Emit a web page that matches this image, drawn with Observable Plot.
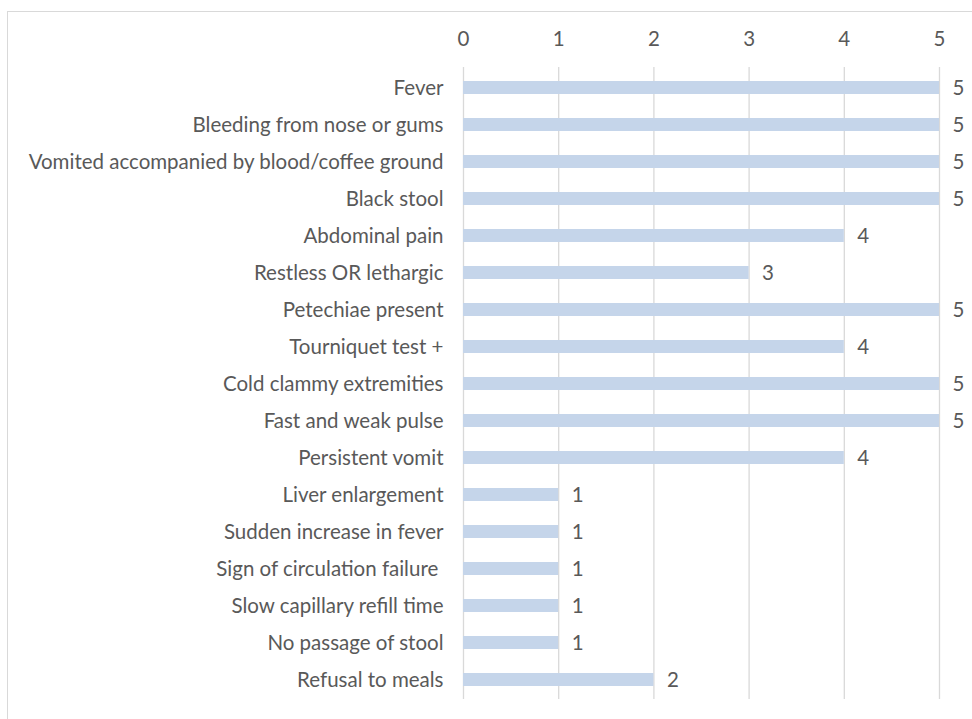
<!DOCTYPE html>
<html>
<head>
<meta charset="utf-8">
<script src="https://cdn.jsdelivr.net/npm/d3@7"></script>
<script src="https://cdn.jsdelivr.net/npm/@observablehq/plot@0.6"></script>
<style>
  html, body { margin: 0; padding: 0; background: #fff; }
  #wrap { position: relative; width: 972px; height: 719px; overflow: hidden; }
  #frame { position: absolute; left: 7px; top: 11px; width: 1000px; height: 1000px; border: 1px solid #d9d9d9; box-sizing: border-box; }
  #chart { position: absolute; left: 0; top: 0; }
</style>
</head>
<body>
<div id="wrap">
  <div id="frame"></div>
  <div id="chart"></div>
</div>
<script>
const categories = [
  "Fever",
  "Bleeding from nose or gums",
  "Vomited accompanied by blood/coffee ground",
  "Black stool",
  "Abdominal pain",
  "Restless OR lethargic",
  "Petechiae present",
  "Tourniquet test +",
  "Cold clammy extremities",
  "Fast and weak pulse",
  "Persistent vomit",
  "Liver enlargement",
  "Sudden increase in fever",
  "Sign of circulation failure ",
  "Slow capillary refill time",
  "No passage of stool",
  "Refusal to meals"
];
const counts = [5, 5, 5, 5, 4, 3, 5, 4, 5, 5, 4, 1, 1, 1, 1, 1, 2];
const xTicks = [0, 1, 2, 3, 4, 5];

const data = categories.map((c, i) => ({category: c, value: counts[i]}));

const FS = 20.5;
const chart = Plot.plot({
  width: 972,
  height: 719,
  marginLeft: 463,
  marginRight: 33,
  marginTop: 67,
  marginBottom: 20,
  style: {fontFamily: "Lato, 'Open Sans', sans-serif", fontSize: FS + "px", color: "#595959", background: "transparent"},
  x: {domain: [0, 5], axis: null},
  y: {domain: categories, paddingInner: 0.65, paddingOuter: 0.325, axis: null},
  marks: [
    Plot.ruleX(xTicks, {x: d => d, stroke: "#d9d9d9", strokeWidth: 1.3}),
    Plot.barX(data, {x: "value", y: "category", fill: "#c5d5ea"}),
    Plot.axisX(xTicks, {anchor: "top", label: null, tickSize: 0, tickPadding: 22, fontSize: FS, fill: "#595959", tickFormat: d => String(d)}),
    Plot.axisY({label: null, tickSize: 0, tickPadding: 20, fontSize: FS, fill: "#595959", textAnchor: "end"}),
    Plot.text(data, {x: "value", y: "category", text: d => String(d.value), dx: 13, textAnchor: "start", fontSize: FS, fill: "#595959"})
  ]
});
document.getElementById("chart").appendChild(chart);
</script>
</body>
</html>
